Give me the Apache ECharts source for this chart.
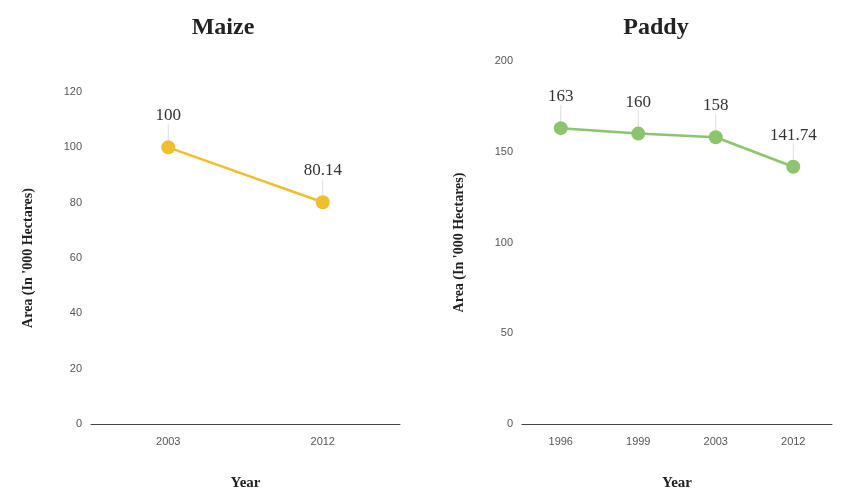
<!DOCTYPE html>
<html><head><meta charset="utf-8">
<script src="https://cdn.jsdelivr.net/npm/echarts@6/dist/echarts.min.js"></script>
<style>html,body{margin:0;padding:0;background:#fff}#c{width:850px;height:500px}</style>
</head><body><div id="c"></div>
<script>
const maizeYears = ['2003', '2012'];
const maizeArea = [100, 80.14];
const paddyYears = ['1996', '1999', '2003', '2012'];
const paddyArea = [163, 160, 158, 141.74];
const titles = ['Maize', 'Paddy'];
const yName = "Area (In '000 Hectares)";
const xName = 'Year';

const serif = 'Liberation Serif';
const chart = echarts.init(document.getElementById('c'));
function xAxis(idx, cats){
  return {type:'category', gridIndex:idx, data:cats, boundaryGap:true,
    name:xName, nameLocation:'middle', nameGap:52,
    nameTextStyle:{fontFamily:serif, fontWeight:'bold', fontSize:15, color:'#222'},
    axisLine:{lineStyle:{color:'#444', width:1}}, axisTick:{show:false},
    axisLabel:{color:'#555', fontSize:11, fontFamily:'Liberation Sans', margin:12}};
}
function yAxis(idx, max, interval){
  return {type:'value', gridIndex:idx, min:0, max:max, interval:interval,
    name:yName, nameLocation:'middle', nameGap:56,
    nameTextStyle:{fontFamily:serif, fontWeight:'bold', fontSize:14, color:'#222'},
    axisLine:{show:false}, axisTick:{show:false}, splitLine:{show:false},
    axisLabel:{color:'#555', fontSize:11, fontFamily:'Liberation Sans', margin:9}};
}
function series(idx, data, color){
  return {type:'line', xAxisIndex:idx, yAxisIndex:idx, data:data,
    symbol:'circle', symbolSize:14, lineStyle:{color:color, width:2.5},
    itemStyle:{color:color},
    label:{show:true, position:'top', distance:6, fontFamily:serif, fontSize:17, color:'#333'},
    labelLayout:{dy:-10},
    labelLine:{show:true, lineStyle:{color:'#ddd', width:1}}};
}
chart.setOption({
  animation:false,
  title:[
    {text:titles[0], left:218, top:11, textAlign:'center', textStyle:{fontFamily:serif, fontWeight:'bold', fontSize:24, color:'#222'}},
    {text:titles[1], left:651, top:11, textAlign:'center', textStyle:{fontFamily:serif, fontWeight:'bold', fontSize:24, color:'#222'}}
  ],
  grid:[
    {left:91, right:450, top:92, bottom:76},
    {left:522, right:18, top:61, bottom:76}
  ],
  xAxis:[xAxis(0, maizeYears), xAxis(1, paddyYears)],
  yAxis:[yAxis(0, 120, 20), yAxis(1, 200, 50)],
  series:[series(0, maizeArea, '#EFBF2E'), series(1, paddyArea, '#8DC46E')]
});
</script></body></html>
